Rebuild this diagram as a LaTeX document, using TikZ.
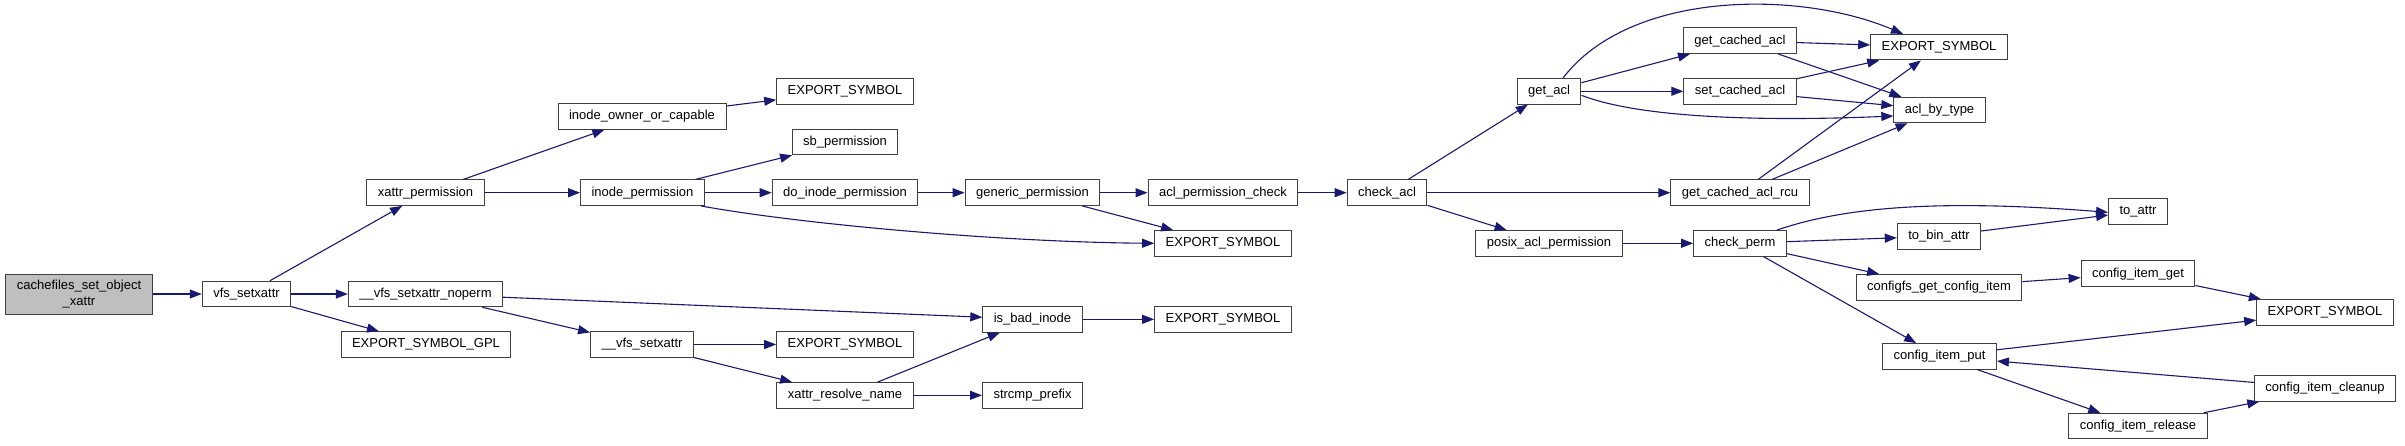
\documentclass[tikz,border=0pt]{standalone}
\usepackage{fontspec}
\setmainfont{Liberation Sans}
\usetikzlibrary{arrows.meta}
\definecolor{edgeblue}{RGB}{25,25,112}
\definecolor{boxline}{RGB}{64,64,64}
\tikzset{
  fn/.style={draw=boxline, line width=1pt, fill=white, minimum height=25.5pt,
    inner xsep=11pt, inner ysep=0pt, font=\fontsize{13}{15.5}\selectfont},
  call/.style={draw=edgeblue, line width=1.1pt, -{Triangle[length=12pt,width=9pt]}},
}
\begin{document}
\begin{tikzpicture}[x=1pt,y=-1pt]
                \useasboundingbox (0,0) rectangle (2405,445);
                \node[fn, fill=black!25, minimum height=40pt, align=center] (cachefiles) at (79,294) {cachefiles\_set\_object\\\_xattr};
                \node[fn] (vfsset) at (246.5,294) {vfs\_setxattr};
                \node[fn] (xattrperm) at (425.5,192.7) {xattr\_permission};
                \node[fn] (noperm) at (425.5,294) {\_\_vfs\_setxattr\_noperm};
                \node[fn] (gpl) at (426,344.5) {EXPORT\_SYMBOL\_GPL};
                \node[fn] (owner) at (642,116.5) {inode\_owner\_or\_capable};
                \node[fn] (inodeperm) at (642.5,192.7) {inode\_permission};
                \node[fn] (rawset) at (642,344.5) {\_\_vfs\_setxattr};
                \node[fn] (expa) at (845,91.3) {EXPORT\_SYMBOL};
                \node[fn] (sbperm) at (845,142) {sb\_permission};
                \node[fn] (doperm) at (845,192.7) {do\_inode\_permission};
                \node[fn] (expd) at (845,344.5) {EXPORT\_SYMBOL};
                \node[fn] (resolve) at (845,395.3) {xattr\_resolve\_name};
                \node[fn] (genperm) at (1032.5,192.7) {generic\_permission};
                \node[fn] (badinode) at (1032.5,319.3) {is\_bad\_inode};
                \node[fn] (strcmp) at (1032.5,395.3) {strcmp\_prefix};
                \node[fn] (aclcheck) at (1223,192.7) {acl\_permission\_check};
                \node[fn] (expb) at (1223,243.3) {EXPORT\_SYMBOL};
                \node[fn] (expc) at (1223,319.3) {EXPORT\_SYMBOL};
                \node[fn] (checkacl) at (1387,192.7) {check\_acl};
                \node[fn] (getacl) at (1549,91.3) {get\_acl};
                \node[fn] (posix) at (1549,243.3) {posix\_acl\_permission};
                \node[fn] (getcached) at (1740,40.7) {get\_cached\_acl};
                \node[fn] (setcached) at (1740,91.3) {set\_cached\_acl};
                \node[fn] (rcu) at (1740,192.7) {get\_cached\_acl\_rcu};
                \node[fn] (checkperm) at (1740,243.3) {check\_perm};
                \node[fn] (expe) at (1939,47.2) {EXPORT\_SYMBOL};
                \node[fn] (bytype) at (1939.5,110) {acl\_by\_type};
                \node[fn] (tobin) at (1939,236.3) {to\_bin\_attr};
                \node[fn] (cfsget) at (1939,287.3) {configfs\_get\_config\_item};
                \node[fn] (itemput) at (1939.5,356.3) {config\_item\_put};
                \node[fn] (toattr) at (2138,211.3) {to\_attr};
                \node[fn] (itemget) at (2138,273.7) {config\_item\_get};
                \node[fn] (release) at (2138,426) {config\_item\_release};
                \node[fn] (expf) at (2325,312.3) {EXPORT\_SYMBOL};
                \node[fn] (cleanup) at (2325,388.3) {config\_item\_cleanup};
                \draw[call] (cachefiles) -- (vfsset);
                \draw[call] (vfsset) -- (xattrperm);
                \draw[call] (vfsset) -- (noperm);
                \draw[call] (vfsset) -- (gpl);
                \draw[call] (xattrperm) -- (owner);
                \draw[call] (xattrperm) -- (inodeperm);
                \draw[call] (owner) -- (expa);
                \draw[call] (inodeperm) -- (sbperm);
                \draw[call] (inodeperm) -- (doperm);
                \draw[call] ([xshift=-4pt]inodeperm.south east) .. controls (800,224) and (1000,242) .. (expb.west);
                \draw[call] (doperm) -- (genperm);
                \draw[call] (genperm) -- (aclcheck);
                \draw[call] (genperm) -- (expb);
                \draw[call] (aclcheck) -- (checkacl);
                \draw[call] (checkacl) -- (getacl);
                \draw[call] (checkacl) -- (rcu);
                \draw[call] (checkacl) -- (posix);
                \draw[call] (getacl) -- (getcached);
                \draw[call] (getacl) -- (setcached);
                \draw[call] ([xshift=14pt]getacl.north) .. controls (1630,-10) and (1800,-10) .. ([xshift=-36pt]expe.north);
                \draw[call] ([yshift=-4pt]getacl.east) .. controls (1650,122) and (1800,120) .. ([yshift=-6pt]bytype.west);
                \draw[call] (getcached) -- (expe);
                \draw[call] (getcached) -- (bytype);
                \draw[call] (setcached) -- (expe);
                \draw[call] (setcached) -- (bytype);
                \draw[call] (rcu) -- (expe);
                \draw[call] (rcu) -- (bytype);
                \draw[call] (posix) -- (checkperm);
                \draw[call] ([xshift=-10pt]checkperm.north east) .. controls (1850,205) and (1950,200) .. ([yshift=-1pt]toattr.west);
                \draw[call] (checkperm) -- (tobin);
                \draw[call] (checkperm) -- (cfsget);
                \draw[call] (checkperm) -- (itemput);
                \draw[call] (tobin) -- (toattr);
                \draw[call] (cfsget) -- (itemget);
                \draw[call] (itemget) -- (expf);
                \draw[call] (itemput) -- (expf);
                \draw[call] (itemput) -- (release);
                \draw[call] (release) -- (cleanup);
                \draw[call] (cleanup) -- (itemput);
                \draw[call] (noperm) -- (badinode);
                \draw[call] (noperm) -- (rawset);
                \draw[call] (rawset) -- (expd);
                \draw[call] (rawset) -- (resolve);
                \draw[call] (resolve) -- (badinode);
                \draw[call] (resolve) -- (strcmp);
                \draw[call] (badinode) -- (expc);
            \end{tikzpicture}
\end{document}
